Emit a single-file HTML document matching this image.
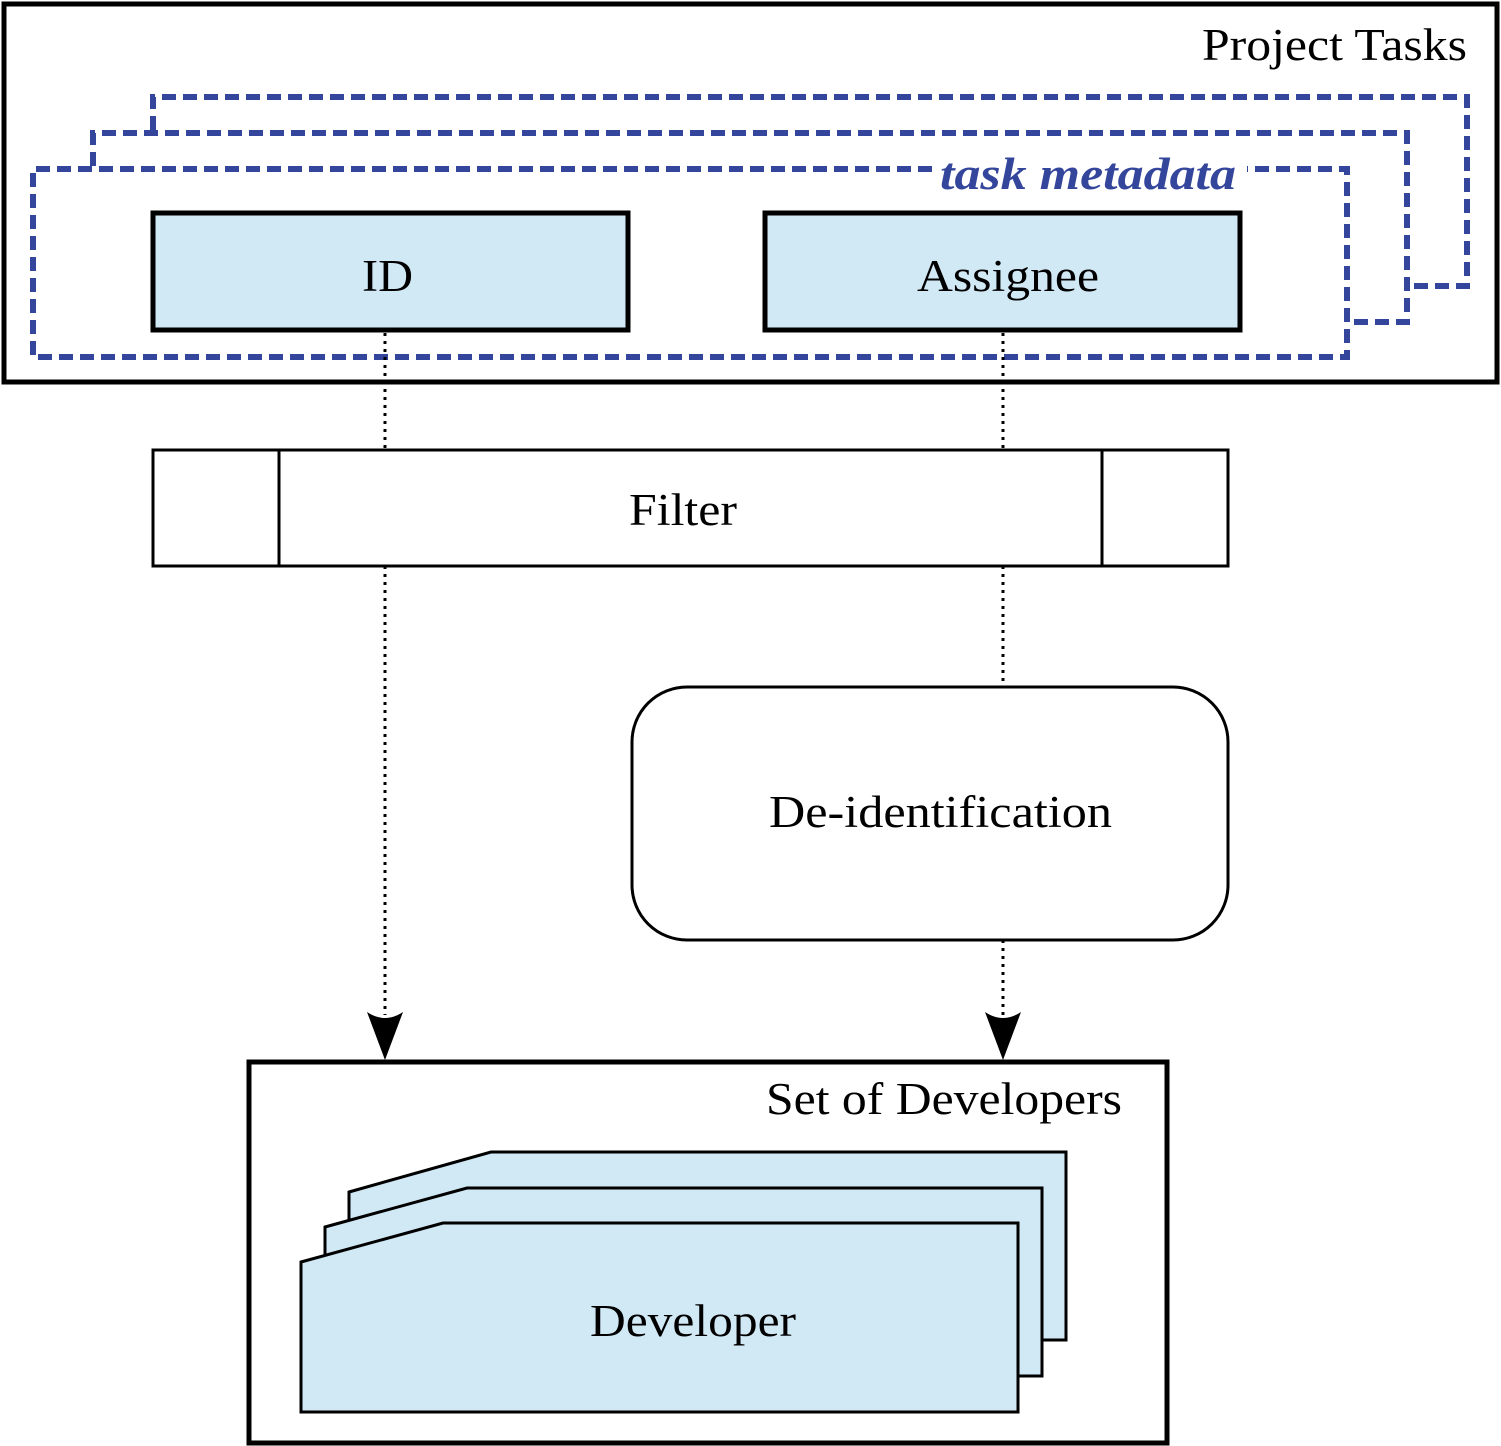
<!DOCTYPE html>
<html><head><meta charset="utf-8"><style>html,body{margin:0;padding:0;background:#fff}svg{display:block}</style></head>
<body>
<svg width="1501" height="1446" viewBox="0 0 1501 1446" xmlns="http://www.w3.org/2000/svg" font-family="Liberation Serif, serif">
<rect x="4" y="4" width="1493" height="378" fill="#fff" stroke="#000" stroke-width="5"/>
<text x="1202" y="60" font-size="45" textLength="265" lengthAdjust="spacingAndGlyphs">Project Tasks</text>
<g fill="none" stroke="#34459c" stroke-width="6" stroke-dasharray="14,7">
<polyline points="153,130 153,97 1467,97 1467,286 1407,286"/>
<polyline points="93,166 93,133 1407,133 1407,322 1347,322"/>
<path d="M932,169 L33,169 L33,357 L1347,357 L1347,169 L1247,169"/>
</g>
<text x="940" y="189" font-size="45" font-weight="bold" font-style="italic" fill="#34459c" textLength="296" lengthAdjust="spacingAndGlyphs">task metadata</text>
<rect x="153" y="213" width="475" height="117" fill="#d1e8f5" stroke="#000" stroke-width="5"/>
<text x="362" y="291" font-size="45" textLength="51" lengthAdjust="spacingAndGlyphs">ID</text>
<rect x="765" y="213" width="475" height="117" fill="#d1e8f5" stroke="#000" stroke-width="5"/>
<text x="917" y="291" font-size="45" textLength="182" lengthAdjust="spacingAndGlyphs">Assignee</text>
<g stroke="#000" stroke-width="3" stroke-dasharray="3,5" fill="none">
<line x1="385" y1="333" x2="385" y2="450"/>
<line x1="1003" y1="333" x2="1003" y2="450"/>
<line x1="385" y1="566" x2="385" y2="1015"/>
<line x1="1003" y1="566" x2="1003" y2="686"/>
<line x1="1003" y1="940" x2="1003" y2="1015"/>
</g>
<rect x="153" y="450" width="1075" height="116" fill="#fff" stroke="#000" stroke-width="3"/>
<line x1="279" y1="450" x2="279" y2="566" stroke="#000" stroke-width="3"/>
<line x1="1102" y1="450" x2="1102" y2="566" stroke="#000" stroke-width="3"/>
<text x="629" y="525" font-size="45" textLength="108" lengthAdjust="spacingAndGlyphs">Filter</text>
<rect x="632" y="687" width="596" height="253" rx="55" fill="#fff" stroke="#000" stroke-width="3"/>
<text x="769" y="827" font-size="45" textLength="343" lengthAdjust="spacingAndGlyphs">De-identification</text>
<path d="M367,1012 Q385,1024 403,1012 L385,1060 Z" fill="#000"/>
<path d="M985,1012 Q1003,1024 1021,1012 L1003,1060 Z" fill="#000"/>
<rect x="249" y="1062" width="918" height="381" fill="#fff" stroke="#000" stroke-width="5"/>
<text x="766" y="1114" font-size="45" textLength="356" lengthAdjust="spacingAndGlyphs">Set of Developers</text>
<g fill="#d1e8f5" stroke="#000" stroke-width="3">
<path d="M349,1192 L491,1152 L1066,1152 L1066,1340 L349,1340 Z"/>
<path d="M325,1227 L467,1188 L1042,1188 L1042,1376 L325,1376 Z"/>
<path d="M301,1262 L443,1223 L1018,1223 L1018,1412 L301,1412 Z"/>
</g>
<text x="590" y="1336" font-size="45" textLength="206" lengthAdjust="spacingAndGlyphs">Developer</text>
</svg>
</body></html>
